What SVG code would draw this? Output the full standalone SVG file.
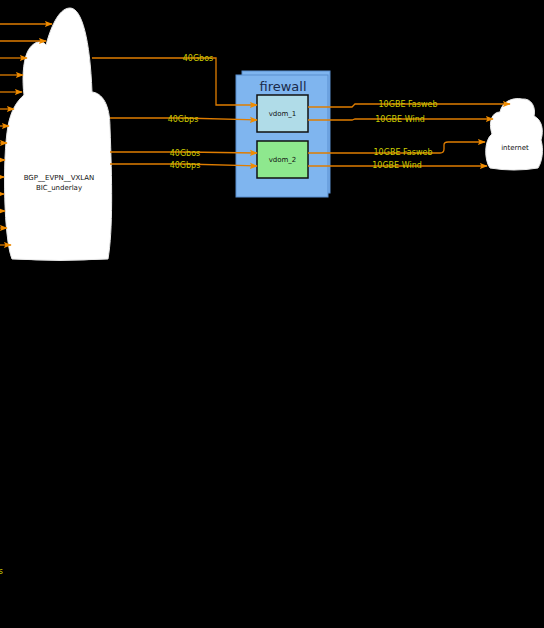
<svg xmlns="http://www.w3.org/2000/svg" width="544" height="628" viewBox="0 0 544 628">
<defs>
<marker id="ah" viewBox="0 0 10 10" refX="9" refY="5" markerWidth="8" markerHeight="8" markerUnits="userSpaceOnUse" orient="auto">
<path d="M0,1 L10,5 L0,9 L2,5 Z" fill="#f08c00"/>
</marker>
<style>
.ln{fill:none;stroke:#e07d00;stroke-width:1.3;marker-end:url(#ah)}
.lb{font-family:"DejaVu Sans",sans-serif;font-size:8px;fill:#cccc00;text-anchor:middle;dominant-baseline:central}
.nt{font-family:"DejaVu Sans",sans-serif;font-size:7px;fill:#111;text-anchor:middle;dominant-baseline:central}
.cloud{fill:#ffffff;stroke:#e8e8e8;stroke-width:1}
.box{stroke:#111;stroke-width:1.5}
</style>
</defs>
<rect width="544" height="628" fill="#000"/>
<g id="bgp">
<path class="cloud" d="M12,259 C4,240 2,160 8,126 C11,110 17,101 24,95 C22,80 23,62 27,53 C31,43 41,38 46,45 C50,30 58,8 70,8 C82,8 90,40 92,92 C102,93 110,104 110,128 C112,180 113,230 108,259 Q60,262 12,259 Z"/>
<text class="nt" x="59" y="178">BGP__EVPN__VXLAN</text>
<text class="nt" x="59" y="188">BIC_underlay</text>
</g>
<g id="firewall">
<rect x="242" y="71" width="88" height="122" fill="#7fb5ef" stroke="#5a8fd0" stroke-width="1"/>
<rect x="236" y="75" width="92" height="122" fill="#7fb5ef" stroke="#5a8fd0" stroke-width="1"/>
<text x="283" y="86" font-family="DejaVu Sans,sans-serif" font-size="13" fill="#1a2a4a" text-anchor="middle" dominant-baseline="central">firewall</text>
</g>
<g id="vdom_1">
<rect class="box" x="257" y="95" width="51" height="37" fill="#b0dce8"/>
<text class="nt" x="282.5" y="113.5">vdom_1</text>
</g>
<g id="vdom_2">
<rect class="box" x="257" y="141" width="51" height="37" fill="#8ee88e"/>
<text class="nt" x="282.5" y="159.5">vdom_2</text>
</g>
<g id="internet">
<path class="cloud" d="M490,168 C484,160 484,140 492,134 C488,122 492,112 500,112 C502,102 512,97 522,99 C532,98 536,108 534,116 C542,120 544,130 541,140 C544,150 542,162 538,168 Q514,172 490,168 Z"/>
<text class="nt" x="515" y="148">internet</text>
</g>
<g id="connectors">
<path class="ln" d="M-5,24 H52"/>
<path class="ln" d="M-5,41 H46"/>
<path class="ln" d="M-5,58 H27"/>
<path class="ln" d="M-5,75 H23"/>
<path class="ln" d="M-5,92 H22"/>
<path class="ln" d="M-5,109 H14"/>
<path class="ln" d="M-5,126 H9"/>
<path class="ln" d="M-5,143 H7"/>
<path class="ln" d="M-5,160 H5"/>
<path class="ln" d="M-5,177 H4"/>
<path class="ln" d="M-5,194 H4"/>
<path class="ln" d="M-5,211 H5"/>
<path class="ln" d="M-5,228 H7"/>
<path class="ln" d="M-5,245 H11"/>
<path class="ln" d="M92,58 H216 V105 H257"/>
<path class="ln" d="M110,118 H183 L257,120"/>
<path class="ln" d="M110,152 H185 L257,153"/>
<path class="ln" d="M110,164 H185 L257,166"/>
<path class="ln" d="M308,107 H352 L355,104 H510"/>
<path class="ln" d="M308,120 H352 L355,119 H493"/>
<path class="ln" d="M308,153 H440 Q444,153 444,149 V145 Q444,142 448,142 H485"/>
<path class="ln" d="M308,166 H487"/>
<text class="lb" x="198" y="58">40Gbos</text>
<text class="lb" x="183" y="119">40Gbps</text>
<text class="lb" x="185" y="153">40Gbos</text>
<text class="lb" x="185" y="165">40Gbps</text>
<text class="lb" x="408" y="104">10GBE Fasweb</text>
<text class="lb" x="400" y="119">10GBE Wind</text>
<text class="lb" x="403" y="152">10GBE Fasweb</text>
<text class="lb" x="397" y="165">10GBE Wind</text>
<text class="lb" x="3" y="571" style="text-anchor:end">40Gbps</text>
</g>
</svg>
